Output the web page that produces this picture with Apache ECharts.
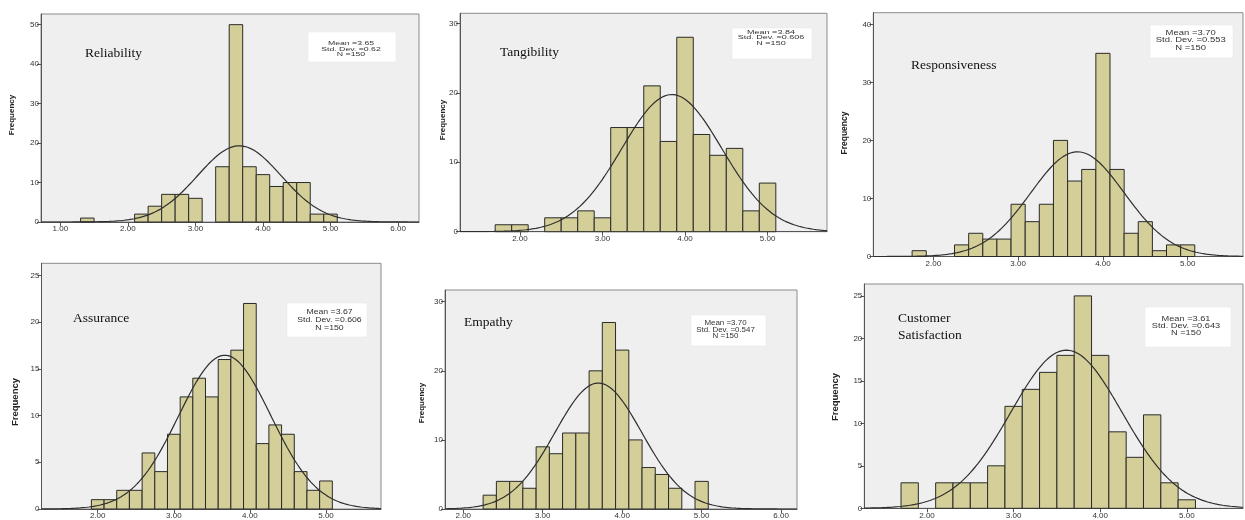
<!DOCTYPE html>
<html>
<head>
<meta charset="utf-8">
<script src="https://cdn.jsdelivr.net/npm/echarts@6/dist/echarts.min.js"></script>
<style>
  html, body { margin: 0; padding: 0; background: #ffffff; }
  #chart { width: 1245px; height: 520px; }
</style>
</head>
<body>
<div id="chart"></div>
<script>
// ---------------- DATA ----------------
const panelNames = ['Reliability', 'Tangibility', 'Responsiveness', 'Assurance', 'Empathy', 'Customer\nSatisfaction'];

const reliabilityCenters = [1.4, 1.6, 1.8, 2.0, 2.2, 2.4, 2.6, 2.8, 3.0, 3.2, 3.4, 3.6, 3.8, 4.0, 4.2, 4.4, 4.6, 4.8, 5.0];
const reliabilityCounts  = [1,   0,   0,   0,   2,   4,   7,   7,   6,   0,   14,  50,  14,  12,  9,   10,  10,  2,   2];

const tangibilityCenters = [1.8, 2.0, 2.2, 2.4, 2.6, 2.8, 3.0, 3.2, 3.4, 3.6, 3.8, 4.0, 4.2, 4.4, 4.6, 4.8, 5.0];
const tangibilityCounts  = [1,   1,   0,   2,   2,   3,   2,   15,  15,  21,  13,  28,  14,  11,  12,  3,   7];

const responsivenessCenters = [1.833, 2.0, 2.167, 2.333, 2.5, 2.667, 2.833, 3.0, 3.167, 3.333, 3.5, 3.667, 3.833, 4.0, 4.167, 4.333, 4.5, 4.667, 4.833, 5.0];
const responsivenessCounts  = [1,     0,   0,     2,     4,   3,     3,     9,   6,     9,     20,  13,    15,    35,  15,    4,     6,   1,     2,     2];

const assuranceCenters = [2.0, 2.167, 2.333, 2.5, 2.667, 2.833, 3.0, 3.167, 3.333, 3.5, 3.667, 3.833, 4.0, 4.167, 4.333, 4.5, 4.667, 4.833, 5.0];
const assuranceCounts  = [1,   1,     2,     2,   6,     4,     8,   12,    14,    12,  16,    17,    22,  7,     9,     8,   4,     2,     3];

const empathyCenters = [2.333, 2.5, 2.667, 2.833, 3.0, 3.167, 3.333, 3.5, 3.667, 3.833, 4.0, 4.167, 4.333, 4.5, 4.667, 4.833, 5.0];
const empathyCounts  = [2,     4,   4,     3,     9,   8,     11,    11,  20,    27,    23,  10,    6,     5,   3,     0,     4];

const satisfactionCenters = [1.8, 2.0, 2.2, 2.4, 2.6, 2.8, 3.0, 3.2, 3.4, 3.6, 3.8, 4.0, 4.2, 4.4, 4.6, 4.8, 5.0];
const satisfactionCounts  = [3,   0,   3,   3,   3,   5,   12,  14,  16,  18,  25,  18,  9,   6,   11,  3,   1];

const binWidths = [0.2, 0.2, 1 / 6, 1 / 6, 1 / 6, 0.2];
const means     = [3.65, 3.84, 3.70, 3.67, 3.70, 3.61];
const stdDevs   = [0.62, 0.606, 0.553, 0.606, 0.547, 0.643];
const meanText  = ['3.65', '3.84', '3.70', '3.67', '3.70', '3.61'];
const sdText    = ['0.62', '0.606', '0.553', '0.606', '0.547', '0.643'];
const sampleN   = [150, 150, 150, 150, 150, 150];

const xTickLabels = [
  [1, 2, 3, 4, 5, 6],
  [2, 3, 4, 5],
  [2, 3, 4, 5],
  [2, 3, 4, 5],
  [2, 3, 4, 5, 6],
  [2, 3, 4, 5]
];
const yTickLabels = [
  [0, 10, 20, 30, 40, 50],
  [0, 10, 20, 30],
  [0, 10, 20, 30, 40],
  [0, 5, 10, 15, 20, 25],
  [0, 10, 20, 30],
  [0, 5, 10, 15, 20, 25]
];

const centersList = [reliabilityCenters, tangibilityCenters, responsivenessCenters, assuranceCenters, empathyCenters, satisfactionCenters];
const countsList  = [reliabilityCounts, tangibilityCounts, responsivenessCounts, assuranceCounts, empathyCounts, satisfactionCounts];

// ---------------- LAYOUT (positions / styles) ----------------
const layout = [
  { left: 41,    top: 14,    width: 378,   height: 208,   xMin: 0.714, xMax: 6.31,  yMax: 52.7,
    title: [85, 53],  box: [308, 32, 88, 30],   stat: [351, 49.3, 6, 1.45, 5.5],   freq: [12, 115, 8] },
  { left: 460,   top: 13.3,  width: 367,   height: 218.4, xMin: 1.274, xMax: 5.72,  yMax: 31.45,
    title: [500, 52], box: [732, 28, 80, 31],   stat: [771, 37.7, 6, 1.5, 5.8],    freq: [443, 120, 8] },
  { left: 873.3, top: 12.7,  width: 369.7, height: 243.8, xMin: 1.292, xMax: 5.652, yMax: 42.0,
    title: [911, 65], box: [1150, 25, 83, 33],  stat: [1190.7, 40.5, 7, 1.35, 7.5], freq: [845, 133, 8.5] },
  { left: 41.5,  top: 263.3, width: 339.5, height: 249.5, xMin: 1.261, xMax: 5.723, yMax: 26.3,
    title: [73, 318], box: [287, 303, 80, 34],  stat: [329.5, 320, 7.5, 1.16, 8],  freq: [15, 402, 9.5] },
  { left: 445,   top: 290,   width: 352,   height: 219.3, xMin: 1.77,  xMax: 6.2,   yMax: 31.7,
    title: [464, 322], box: [691, 315, 75, 31], stat: [725.5, 330, 6.5, 1.22, 6.7], freq: [422, 403, 8] },
  { left: 864.3, top: 284,   width: 378.7, height: 224.3, xMin: 1.276, xMax: 5.649, yMax: 26.4,
    title: [898, 327], box: [1145, 307, 86, 40], stat: [1186, 326.3, 6.5, 1.42, 7], freq: [835, 397, 9.5] }
];

const BAR_FILL = '#d4cf98';
const BAR_EDGE = '#2a2a2a';
const PLOT_BG  = '#efefef';

// Fitted normal curve (SPSS "display normal curve"), defined by mean, sd, N and bin width
function normalCurve(mean, sd, n, bw, lo, hi) {
  const pts = [];
  const steps = 300;
  for (let i = 0; i <= steps; i++) {
    const x = lo + (hi - lo) * i / steps;
    const z = (x - mean) / sd;
    pts.push([x, n * bw * Math.exp(-0.5 * z * z) / (sd * Math.sqrt(2 * Math.PI))]);
  }
  return pts;
}

const grids = [], xAxes = [], yAxes = [], series = [], graphics = [];

layout.forEach((L, i) => {
  grids.push({
    left: L.left, top: L.top, width: L.width, height: L.height,
    show: true, backgroundColor: PLOT_BG, borderColor: '#8a8a8a', borderWidth: 1
  });
  xAxes.push({
    type: 'value', gridIndex: i, min: L.xMin, max: L.xMax,
    axisLine: { show: true, onZero: false, lineStyle: { color: '#555', width: 1 } },
    axisTick: { show: true, length: 4, inside: false, customValues: xTickLabels[i], lineStyle: { color: '#555' } },
    axisLabel: { customValues: xTickLabels[i], formatter: v => v.toFixed(2), fontSize: 8, color: '#333', margin: 3, fontFamily: 'Liberation Sans' },
    splitLine: { show: false }
  });
  yAxes.push({
    type: 'value', gridIndex: i, min: 0, max: L.yMax,
    axisLine: { show: true, lineStyle: { color: '#555', width: 1 } },
    axisTick: { show: true, length: 4, customValues: yTickLabels[i], lineStyle: { color: '#555' } },
    axisLabel: { customValues: yTickLabels[i], fontSize: 8, color: '#333', margin: 2, fontFamily: 'Liberation Sans' },
    splitLine: { show: false }
  });

  const barData = [];
  centersList[i].forEach((c, k) => {
    if (countsList[i][k] > 0) barData.push([c, countsList[i][k], binWidths[i]]);
  });
  series.push({
    type: 'custom', xAxisIndex: i, yAxisIndex: i, z: 2,
    encode: { x: 0, y: 1 },
    data: barData,
    renderItem: (params, api) => {
      const c = api.value(0), v = api.value(1), w = api.value(2);
      const p0 = api.coord([c - w / 2, v]);
      const p1 = api.coord([c + w / 2, 0]);
      return {
        type: 'rect',
        shape: { x: p0[0], y: p0[1], width: p1[0] - p0[0], height: p1[1] - p0[1] },
        style: { fill: BAR_FILL, stroke: BAR_EDGE, lineWidth: 1 }
      };
    },
    silent: true
  });
  series.push({
    type: 'line', xAxisIndex: i, yAxisIndex: i, z: 3,
    data: normalCurve(means[i], stdDevs[i], sampleN[i], binWidths[i], L.xMin, L.xMax),
    showSymbol: false, smooth: false, clip: true,
    lineStyle: { color: '#2e2e2e', width: 1.2 },
    silent: true
  });

  // panel title (serif, inside plot)
  graphics.push({
    type: 'text', x: L.title[0], y: L.title[1], z: 10,
    style: { text: panelNames[i], font: '13.5px "Liberation Serif"', fill: '#111', verticalAlign: 'middle', align: 'left', lineHeight: 17 }
  });
  // stats box
  graphics.push({
    type: 'rect', z: 9,
    shape: { x: L.box[0], y: L.box[1], width: L.box[2], height: L.box[3] },
    style: { fill: '#ffffff', stroke: '#e4e4e4', lineWidth: 0.5 }
  });
  graphics.push({
    type: 'text', x: L.stat[0], y: L.stat[1], scaleX: L.stat[3], z: 10,
    style: {
      text: 'Mean =' + meanText[i] + '\nStd. Dev. =' + sdText[i] + '\nN =' + sampleN[i],
      font: L.stat[2] + 'px "Liberation Sans"', fill: '#333', align: 'center', verticalAlign: 'middle', lineHeight: L.stat[4]
    }
  });
  // y-axis title
  graphics.push({
    type: 'text', x: L.freq[0], y: L.freq[1], rotation: Math.PI / 2, z: 10,
    style: { text: 'Frequency', font: 'bold ' + L.freq[2] + 'px "Liberation Sans"', fill: '#222', align: 'center', verticalAlign: 'middle' }
  });
});

const chart = echarts.init(document.getElementById('chart'), null, { renderer: 'canvas' });
chart.setOption({
  animation: false,
  backgroundColor: '#ffffff',
  grid: grids,
  xAxis: xAxes,
  yAxis: yAxes,
  series: series,
  graphic: graphics
});
</script>
</body>
</html>
